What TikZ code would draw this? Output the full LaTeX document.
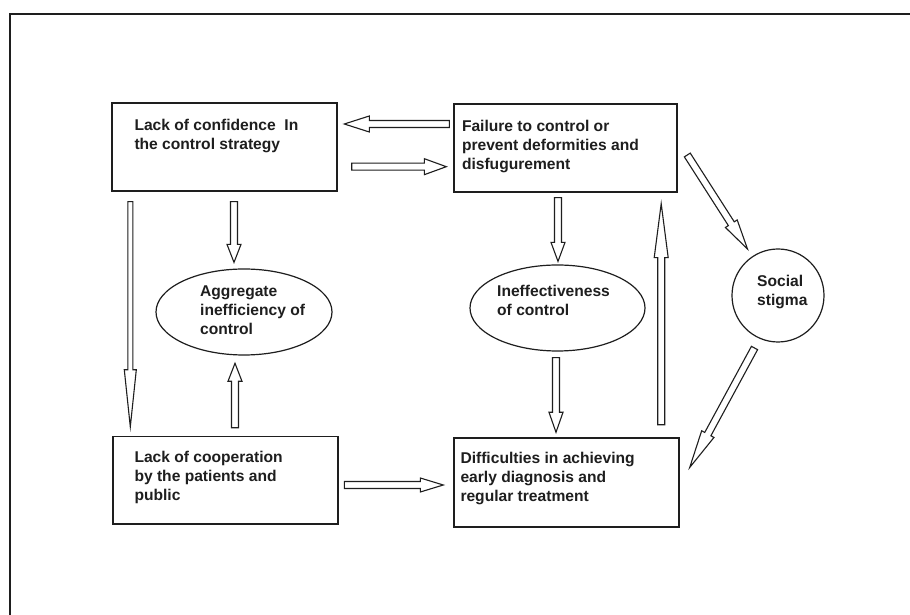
\documentclass[tikz,border=0pt]{standalone}
\usepackage{fontspec}
\setmainfont{Liberation Sans}
\usetikzlibrary{calc,shapes.geometric}
\definecolor{ink}{HTML}{1E1E1E}
\tikzset{
  ahl/.store in=\ahl, ahw/.store in=\ahw, asw/.store in=\asw,
  ahl=20, ahw=7, asw=3.5,
  blk/.style={draw=ink, line width=1.1pt, line join=miter, to path={
    let \p1=(\tikztostart), \p2=(\tikztotarget),
        \n1={veclen(\x2-\x1,\y2-\y1)}, \n2={atan2(\y2-\y1,\x2-\x1)} in
    ($(\p1)+(\n2+90:\asw)$)
    -- ($(\p1)+(\n2:\n1-\ahl)+(\n2+90:\asw)$)
    -- ($(\p1)+(\n2:\n1-\ahl)+(\n2+90:\ahw)$)
    -- (\p2)
    -- ($(\p1)+(\n2:\n1-\ahl)+(\n2-90:\ahw)$)
    -- ($(\p1)+(\n2:\n1-\ahl)+(\n2-90:\asw)$)
    -- ($(\p1)+(\n2-90:\asw)$) -- cycle}},
  boxn/.style={draw=ink, line width=1.4pt, rectangle, inner sep=0pt},
  ell/.style={ellipse, draw=ink, line width=1.2pt, inner sep=0pt},
  txt/.style={inner sep=0pt, anchor=north west, align=left, text=ink,
    font=\fontsize{15.6}{19}\selectfont\bfseries},
}
\begin{document}
\begin{tikzpicture}[x=1pt,y=1pt]
\useasboundingbox (0,0) rectangle (910,615);
\fill[white] (0,0) rectangle (910,615);
\draw[ink, line width=2.5pt] (10,0) -- (10,601) -- (910,601);

\node[boxn, minimum width=225pt, minimum height=88pt] (b1) at (224.5,468) {};
\node[boxn, minimum width=223pt, minimum height=88pt] (b2) at (565.5,467) {};
\node[boxn, minimum width=225pt, minimum height=87.5pt] (b3) at (225.5,134.75) {};
\node[boxn, minimum width=225pt, minimum height=89pt] (b4) at (566.5,132.5) {};
\node[ell, minimum width=176pt, minimum height=86pt] (e1) at (244,303) {};
\node[ell, minimum width=175pt, minimum height=86pt] (e2) at (557.5,307) {};
\node[ell, minimum width=92pt, minimum height=93pt] (st) at (778,319.5) {};

\node[txt] (t1) at ($(b1.north west)+(23,-16.5)$) {Lack of confidence\ \ In\\the control strategy};
\node[txt] (t2) at ($(b2.north west)+(8.5,-17)$) {Failure to control or\\prevent deformities and\\disfugurement};
\node[txt] (t3) at ($(b3.north west)+(22,-15)$) {Lack of cooperation\\by the patients and\\public};
\node[txt] (t4) at ($(b4.north west)+(7,-14.5)$) {Difficulties in achieving\\early diagnosis and\\regular treatment};
\node[txt] (t5) at ($(e1.center)+(-44,26.5)$) {Aggregate\\inefficiency of\\control};
\node[txt] (t6) at ($(e2.center)+(-60.5,22.5)$) {Ineffectiveness\\of control};
\node[txt] (t7) at ($(st.center)+(-21,20.5)$) {Social\\stigma};

\draw[blk, ahl=25, ahw=8] ($(b2.west)+(-4,24)$) to ($(b1.east)+(6.6,23)$);
\draw[blk, ahl=22, ahw=8] ($(b1.east)+(14,-19.7)$) to ($(b2.west)+(-7,-18.7)$);
\draw[blk, ahl=57, ahw=6, asw=2.5] ($(b1.south west)+(19,-10)$) to ($(b3.north west)+(18,9)$);
\draw[blk, ahl=18] ($(b1.south)+(9.5,-10)$) to ($(e1.north)+(-10,6)$);
\draw[blk, ahl=18] ($(b3.north)+(9.5,8)$) to ($(e1.south)+(-9,-7.7)$);
\draw[blk, ahl=19] ($(b2.south)+(-7.5,-5)$) to ($(e2.north)+(0.5,3)$);
\draw[blk, ahl=20] ($(e2.south)+(-1.5,-6)$) to ($(b4.north)+(-10.5,5)$);
\draw[blk, ahl=54] ($(b4.north east)+(-18.5,12.5)$) to ($(b2.south east)+(-16.5,-11)$);
\draw[blk, ahl=23] ($(b3.east)+(5.6,-4.75)$) to ($(b4.west)+(-10,-2.5)$);
\draw[blk, ahl=30] ($(b2.east)+(9.6,-7)$) to ($(st.center)+(-30.5,46.5)$);
\draw[blk, ahl=38] ($(st.center)+(-23.5,-52.5)$) to ($(b4.east)+(10,15)$);
\end{tikzpicture}
\end{document}
